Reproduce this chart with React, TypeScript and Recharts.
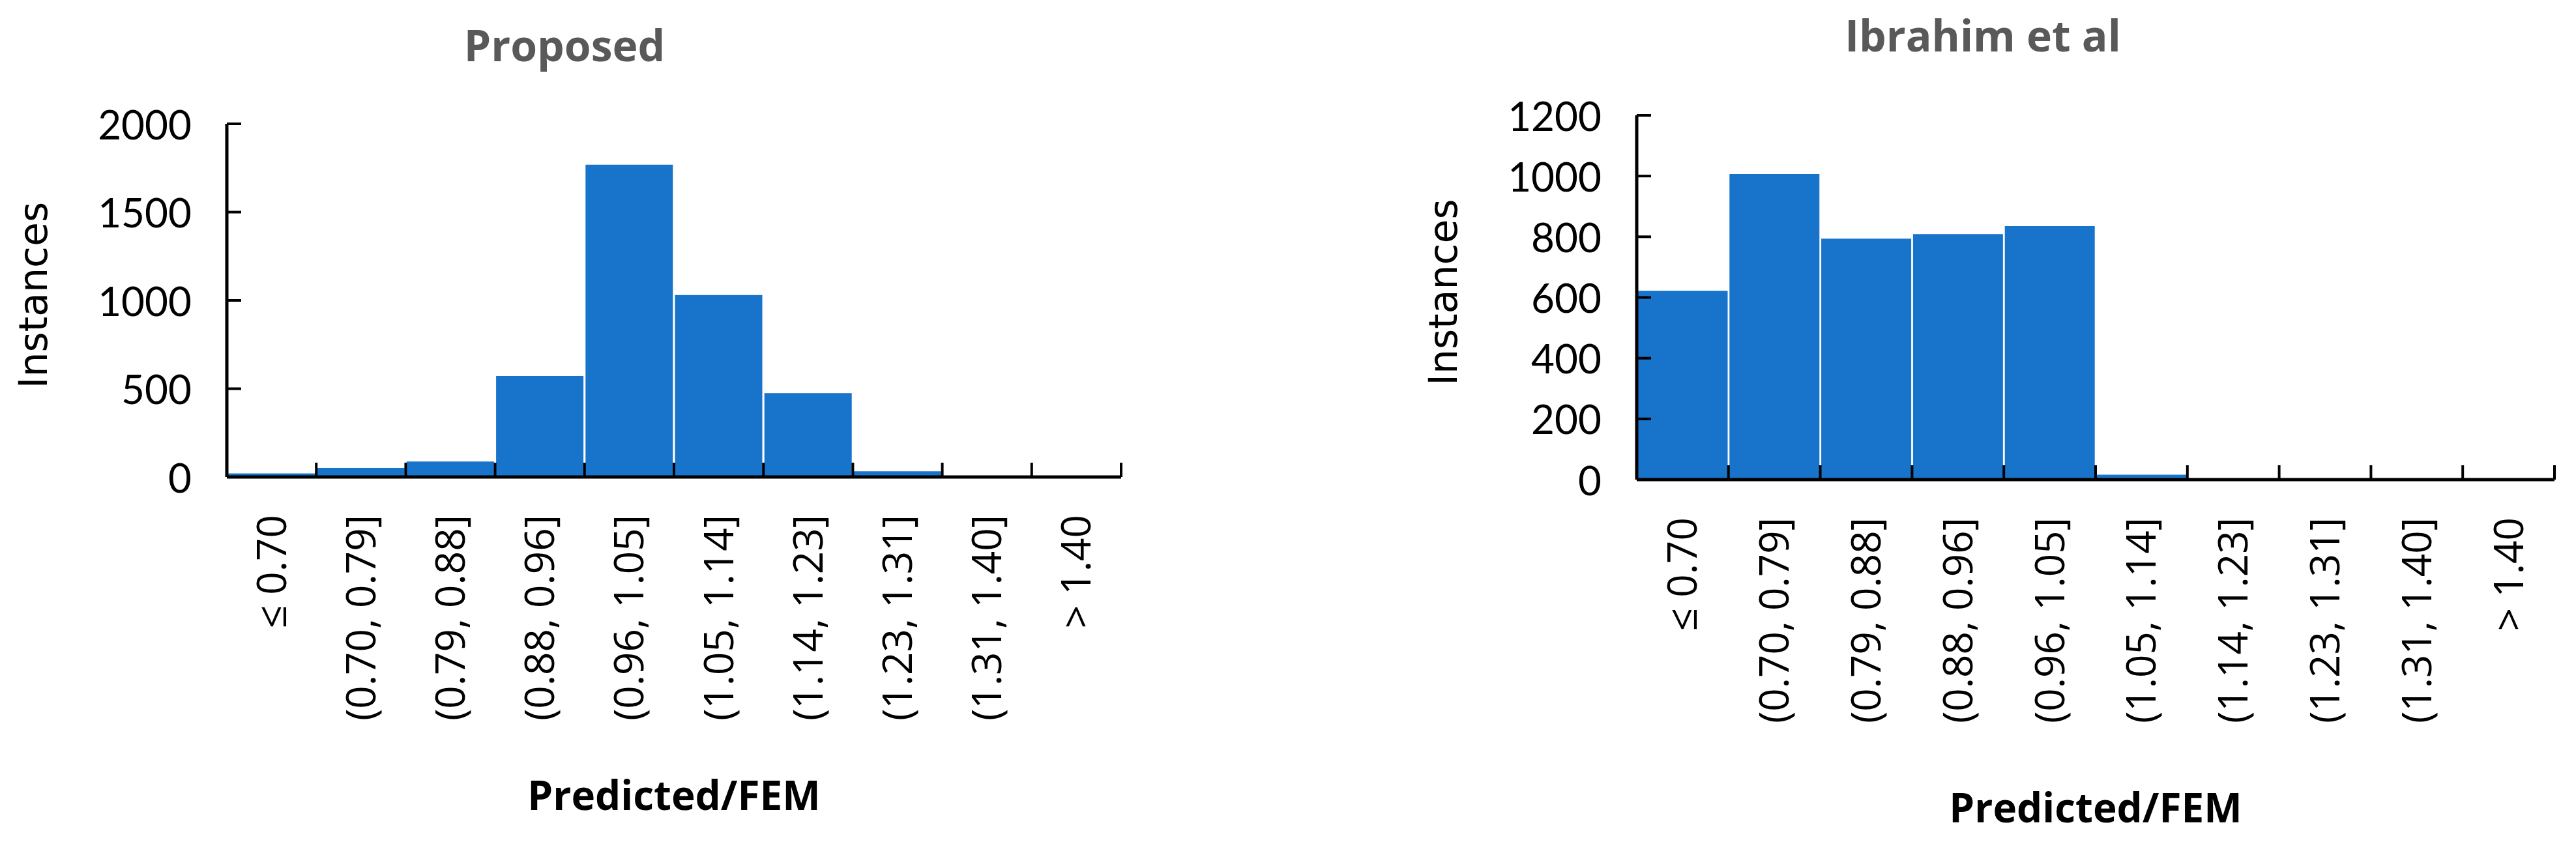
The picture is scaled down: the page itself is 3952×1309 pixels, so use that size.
import { BarChart, Bar, XAxis, YAxis } from "recharts";

const categories = [
  "≤ 0.70",
  "(0.70, 0.79]",
  "(0.79, 0.88]",
  "(0.88, 0.96]",
  "(0.96, 1.05]",
  "(1.05, 1.14]",
  "(1.14, 1.23]",
  "(1.23, 1.31]",
  "(1.31, 1.40]",
  "> 1.40",
];

const proposedCounts = [20, 52, 88, 572, 1768, 1030, 475, 32, 0, 0];
const ibrahimCounts = [622, 1007, 794, 809, 835, 16, 0, 0, 0, 0];

const proposedTicks = [0, 500, 1000, 1500, 2000];
const ibrahimTicks = [0, 200, 400, 600, 800, 1000, 1200];

const BLUE = "#1873ca";
const TICK_LEN = 22;

function XTick(props: any) {
  const { x, y, payload, index } = props;
  const half = payload?.offset ?? 0;
  const last = index === categories.length - 1;
  return (
    <g>
      <line x1={x - half} x2={x - half} y1={y} y2={y - TICK_LEN} stroke="#000" strokeWidth={4} />
      {last && <line x1={x + half} x2={x + half} y1={y} y2={y - TICK_LEN} stroke="#000" strokeWidth={4} />}
      <text
        transform={`translate(${x + 22}, ${y + 58}) rotate(-90)`}
        textAnchor="end"
        fontFamily="'Open Sans', sans-serif"
        fontSize={62}
        fill="#000"
      >
        {payload.value}
      </text>
    </g>
  );
}

function YTick(props: any) {
  const { x, y, payload } = props;
  return (
    <g>
      <line x1={x} x2={x + TICK_LEN} y1={y} y2={y} stroke="#000" strokeWidth={4} />
      <text x={x - 54} y={y} dy="0.38em" textAnchor="end" fontFamily="Lato, sans-serif" fontSize={62} fill="#000">
        {payload.value}
      </text>
    </g>
  );
}

type PanelProps = {
  counts: number[];
  ticks: number[];
  title: string;
  left: number;
  width: number;
  plotTop: number;
  plotBottom: number;
  plotLeft: number;
  marginRight: number;
  titleX: number;
  titleY: number;
  xLabelDy: number;
};

function Panel(p: PanelProps) {
  const data = categories.map((c, i) => ({ bin: c, count: p.counts[i] }));
  const yMax = p.ticks[p.ticks.length - 1];
  return (
    <div style={{ position: "absolute", left: p.left, top: 0 }}>
      <BarChart
        width={p.width}
        height={1309}
        data={data}
        margin={{ top: p.plotTop, right: p.marginRight, bottom: 0, left: 0 }}
        barCategoryGap={1.5}
      >
        <text
          x={p.titleX}
          y={p.titleY}
          textAnchor="middle"
          fontFamily="'Open Sans', sans-serif"
          fontWeight={700}
          fontSize={66}
          fill="#595959"
        >
          {p.title}
        </text>
        <XAxis
          dataKey="bin"
          height={1309 - p.plotBottom}
          interval={0}
          tickLine={false}
          tickSize={0}
          tickMargin={0}
          tick={<XTick />}
          axisLine={{ stroke: "#000", strokeWidth: 5 }}
          label={(lp: any) => {
            const vb = lp.viewBox;
            return (
              <text
                x={vb.x + vb.width / 2}
                y={vb.y + p.xLabelDy}
                textAnchor="middle"
                fontFamily="'Open Sans', sans-serif"
                fontWeight={700}
                fontSize={62}
                fill="#000"
              >
                Predicted/FEM
              </text>
            );
          }}
        />
        <YAxis
          width={p.plotLeft}
          domain={[0, yMax]}
          ticks={p.ticks}
          interval={0}
          tickLine={false}
          tickSize={0}
          tickMargin={0}
          tick={<YTick />}
          axisLine={{ stroke: "#000", strokeWidth: 5 }}
          label={(lp: any) => {
            const vb = lp.viewBox;
            const cx = vb.x + vb.width - 276;
            const cy = p.plotTop + (p.plotBottom - p.plotTop) / 2 - 8;
            return (
              <text
                transform={`translate(${cx}, ${cy}) rotate(-90)`}
                textAnchor="middle"
                fontFamily="'DejaVu Sans', sans-serif"
                fontSize={60}
                fill="#000"
              >
                Instances
              </text>
            );
          }}
        />
        <Bar dataKey="count" fill={BLUE} isAnimationActive={false} />
      </BarChart>
    </div>
  );
}

export default function App() {
  return (
    <div style={{ position: "relative", width: 3952, height: 1309, background: "#fff", overflow: "hidden" }}>
      <style>{`body { margin: 0; }`}</style>
      <Panel
        counts={proposedCounts}
        ticks={proposedTicks}
        title="Proposed"
        left={0}
        width={1760}
        plotTop={190}
        plotBottom={732}
        plotLeft={348}
        marginRight={40}
        titleX={866}
        titleY={94}
        xLabelDy={511}
      />
      <Panel
        counts={ibrahimCounts}
        ticks={ibrahimTicks}
        title="Ibrahim et al"
        left={2100}
        width={1852}
        plotTop={177}
        plotBottom={736}
        plotLeft={411}
        marginRight={33}
        titleX={942}
        titleY={79}
        xLabelDy={526}
      />
    </div>
  );
}
